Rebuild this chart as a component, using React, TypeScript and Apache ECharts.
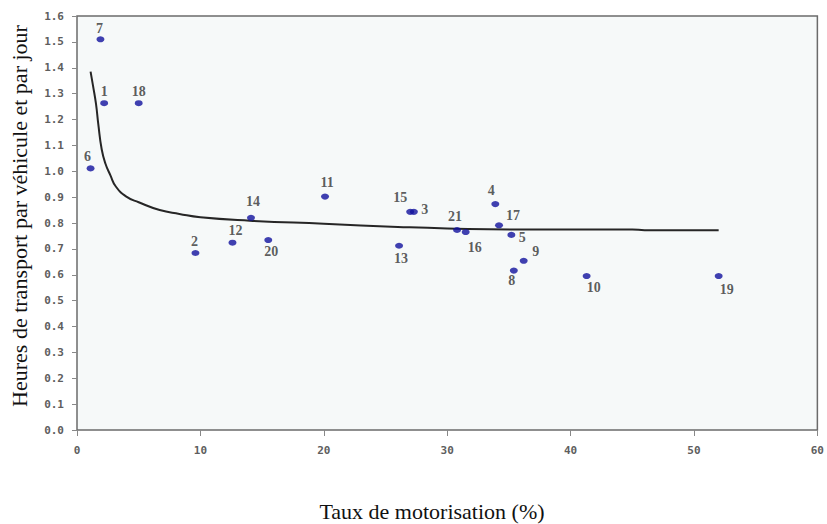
import React, { useEffect, useRef } from "react";
import * as echarts from "echarts";

const pointIds = ["7", "1", "18", "6", "2", "14", "12", "20", "11", "15", "3", "13", "21", "16", "4", "17", "5", "9", "8", "10", "19"];
const motorisation = [1.9, 2.2, 5.0, 1.1, 9.6, 14.1, 12.6, 15.5, 20.1, 27.0, 27.3, 26.1, 30.8, 31.5, 33.9, 34.2, 35.2, 36.2, 35.4, 41.3, 52.0];
const heures = [1.51, 1.263, 1.263, 1.011, 0.684, 0.82, 0.724, 0.734, 0.902, 0.843, 0.843, 0.712, 0.773, 0.765, 0.873, 0.791, 0.754, 0.654, 0.616, 0.595, 0.595];

const curveX = [1.1, 1.3, 1.54, 1.73, 2.0, 2.3, 2.7, 3.16, 4.0, 5.0, 6.7, 8.3, 10, 14, 20, 26, 30, 36, 45, 46, 52];
const curveY = [1.385, 1.33, 1.26, 1.18, 1.085, 1.03, 0.985, 0.94, 0.902, 0.88, 0.85, 0.835, 0.822, 0.809, 0.797, 0.785, 0.779, 0.775, 0.775, 0.772, 0.772];

const xTicks = [0, 10, 20, 30, 40, 50, 60];
const yTicks = [0, 0.1, 0.2, 0.3, 0.4, 0.5, 0.6, 0.7, 0.8, 0.9, 1.0, 1.1, 1.2, 1.3, 1.4, 1.5, 1.6];

const xTitle = "Taux de motorisation (%)";
const yTitle = "Heures de transport par véhicule et par jour";

// label placement (pixel offsets from the point), styling only
const labelOffsets: Record<string, [number, number]> = {
  "7": [-1, -11], "1": [0, -12], "18": [0, -12], "6": [-3, -12], "2": [-1, -12],
  "14": [2, -16], "12": [3, -12], "20": [3, 11], "11": [2, -14], "15": [-10, -14],
  "3": [11, -2], "13": [2, 13], "21": [-2, -13], "16": [9, 15], "4": [-4, -14],
  "17": [14, -10], "5": [11, 3], "9": [12, -9], "8": [-2, 10], "10": [7, 11], "19": [8, 13],
};

export default function App() {
  const ref = useRef<HTMLDivElement>(null);
  useEffect(() => {
    if (!ref.current) return;
    const chart = echarts.init(ref.current, undefined, { renderer: "svg" });
    const tickFont = {
      fontFamily: "DejaVu Sans Mono",
      fontWeight: "bold" as const,
      fontSize: 11,
      color: "#5e5e5e",
    };
    chart.setOption({
      animation: false,
      backgroundColor: "#ffffff",
      grid: {
        left: 77,
        right: 9,
        top: 16,
        bottom: 94,
        show: true,
        backgroundColor: "#f6f9f9",
        borderColor: "#6b6b6b",
        borderWidth: 1.5,
      },
      xAxis: {
        type: "value",
        min: xTicks[0],
        max: xTicks[xTicks.length - 1],
        interval: 10,
        axisLine: { show: false },
        axisTick: { show: true, length: 6, lineStyle: { color: "#888" } },
        axisLabel: { ...tickFont, margin: 15, formatter: (v: number) => String(v) },
        splitLine: { show: false },
      },
      yAxis: {
        type: "value",
        min: yTicks[0],
        max: yTicks[yTicks.length - 1],
        interval: 0.1,
        axisLine: { show: false },
        axisTick: { show: true, length: 5, lineStyle: { color: "#888" } },
        axisLabel: { ...tickFont, margin: 13, formatter: (v: number) => v.toFixed(1) },
        splitLine: { show: false },
      },
      graphic: [
        {
          type: "text",
          x: 19,
          y: 216,
          rotation: Math.PI / 2,
          style: {
            text: yTitle,
            fontFamily: "Liberation Serif",
            fontSize: 22,
            fill: "#111",
            textAlign: "center",
            textVerticalAlign: "middle",
          },
        },
        {
          type: "text",
          x: 432,
          y: 511,
          style: {
            text: xTitle,
            fontFamily: "Liberation Serif",
            fontSize: 22,
            fill: "#111",
            textAlign: "center",
            textVerticalAlign: "middle",
          },
        },
      ],
      series: [
        {
          type: "line",
          data: curveX.map((x, i) => [x, curveY[i]]),
          showSymbol: false,
          smooth: true,
          lineStyle: { color: "#262626", width: 2 },
          z: 2,
        },
        {
          type: "scatter",
          symbol: "circle",
          symbolSize: [8, 6],
          itemStyle: { color: "#12129e" },
          z: 3,
          data: pointIds.map((id, i) => ({
            name: id,
            value: [motorisation[i], heures[i]],
            label: {
              show: true,
              position: "inside",
              offset: labelOffsets[id],
              formatter: id,
              fontFamily: "Liberation Serif",
              fontWeight: "bold",
              fontSize: 14,
              color: "#333333",
            },
          })),
        },
      ],
    });
    return () => chart.dispose();
  }, []);
  return (
    <div
      ref={ref}
      style={{ position: "absolute", left: 0, top: 0, width: 827, height: 524 }}
    />
  );
}
